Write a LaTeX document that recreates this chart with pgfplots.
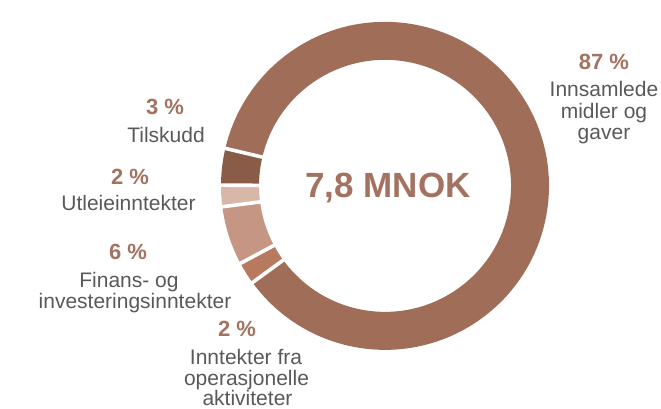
\documentclass[border=0pt]{standalone}
\usepackage{pgfplots}
\pgfplotsset{compat=1.18}
\usepackage{fontspec}
\setmainfont{Liberation Sans}
\definecolor{cInn}{HTML}{A06E58}
\definecolor{cTil}{HTML}{895C48}
\definecolor{cUtl}{HTML}{D9B7A8}
\definecolor{cFin}{HTML}{C69684}
\definecolor{cOpe}{HTML}{B87A5F}
\definecolor{cPct}{HTML}{A37260}
\definecolor{cLab}{HTML}{58595B}
% segment: color, start angle, share (percent)
\newcommand{\seg}[3]{%
  \fill[#1] ([shift={({#2}:164pt)}]axis cs:385,223)
    arc[start angle={#2}, end angle={#2+3.6*(#3)}, radius=164pt]
    -- ([shift={({#2+3.6*(#3)}:126pt)}]axis cs:385,223)
    arc[start angle={#2+3.6*(#3)}, end angle={#2}, radius=126pt] -- cycle;}
\newcommand{\gap}[1]{%
  \draw[white, line width=3.6pt] ([shift={({#1}:120pt)}]axis cs:385,223) -- ([shift={({#1}:170pt)}]axis cs:385,223);}
\newcommand{\pct}[3]{\node[anchor=base, inner sep=0, text=cPct, font=\bfseries\fontsize{22}{22}\selectfont] at (axis cs:#1,#2) {#3};}
\newcommand{\lab}[3]{\node[anchor=base, inner sep=0, text=cLab, font=\fontsize{21}{21}\selectfont] at (axis cs:#1,#2) {#3};}
\begin{document}
\begin{tikzpicture}
\begin{axis}[scale only axis, width=661pt, height=401pt,
  xmin=0, xmax=661, ymin=0, ymax=401, hide axis, clip=false]
\path (axis cs:0,0) rectangle (axis cs:661,401);
% shares (percent): Tilskudd 3.6, Utleie 2.1, Finans 5.8, Operasjonelle 2.2, Innsamlede 86.3
\seg{cTil}{166.8}{3.6}
\seg{cUtl}{166.8+3.6*3.6}{2.1}
\seg{cFin}{166.8+3.6*5.7}{5.8}
\seg{cOpe}{166.8+3.6*11.5}{2.2}
\seg{cInn}{166.8+3.6*13.7}{86.3}
\gap{166.8}
\gap{166.8+3.6*3.6}
\gap{166.8+3.6*5.7}
\gap{166.8+3.6*11.5}
\gap{166.8+3.6*13.7}
\node[anchor=base, inner sep=0, text=cPct, font=\bfseries\fontsize{35}{35}\selectfont] at (axis cs:388,211) {7,8 MNOK};
\pct{604}{339}{87 \%}
\lab{604}{312}{Innsamlede}
\lab{604}{290}{midler og}
\lab{604}{269}{gaver}
\pct{165}{294}{3 \%}
\lab{166}{266}{Tilskudd}
\pct{130}{224}{2 \%}
\lab{128.5}{198}{Utleieinntekter}
\pct{128}{149}{6 \%}
\lab{129}{121}{Finans- og}
\lab{135}{100}{investeringsinntekter}
\pct{237}{72}{2 \%}
\lab{246}{44}{Inntekter fra}
\lab{246.5}{23}{operasjonelle}
\lab{247.5}{3}{aktiviteter}
\end{axis}
\end{tikzpicture}
\end{document}
